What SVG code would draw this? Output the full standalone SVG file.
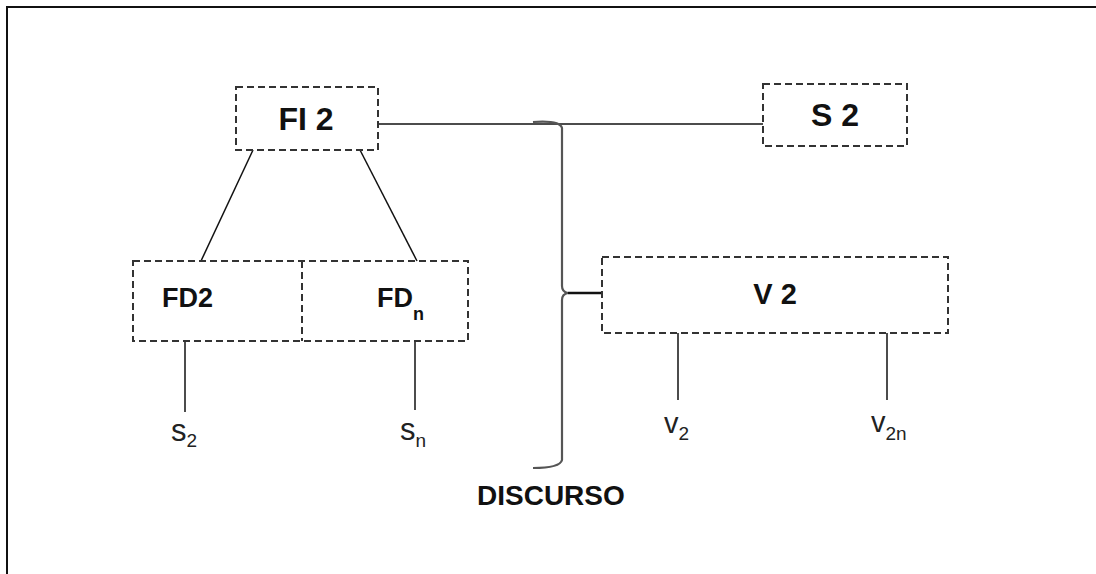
<svg xmlns="http://www.w3.org/2000/svg" width="1096" height="574" viewBox="0 0 1096 574">
<style>
.box{fill:none;stroke:#333;stroke-width:2;stroke-dasharray:7 4}
.ln{fill:none;stroke:#111;stroke-width:1.5}
.br{fill:none;stroke:#555;stroke-width:2.2}
.b{font-family:"Liberation Sans",Arial,sans-serif;font-weight:bold;fill:#111}
.r{font-family:"Liberation Sans",Arial,sans-serif;fill:#222}
</style>
<rect width="1096" height="574" fill="#fff"/>
<path d="M7,574 V7 H1096" fill="none" stroke="#111" stroke-width="2"/>
<g id="connectors">
<line class="ln" x1="378" y1="124" x2="763" y2="124"/>
<line class="ln" x1="253" y1="150" x2="201" y2="261"/>
<line class="ln" x1="360" y1="150" x2="417" y2="261"/>
<line class="ln" x1="185" y1="341" x2="185" y2="412"/>
<line class="ln" x1="415" y1="341" x2="415" y2="410"/>
<line class="ln" x1="678" y1="333" x2="678" y2="400"/>
<line class="ln" x1="887" y1="333" x2="887" y2="400"/>
<path class="br" d="M533,122 Q560,120 562,128 V286 Q562,292 568,293 Q562,294 562,300 V460 Q560,468 533,468"/>
<line x1="568" y1="293" x2="601" y2="293" stroke="#111" stroke-width="2.5"/>
</g>
<g id="FI2">
<rect class="box" x="236" y="87" width="142" height="63"/>
<text class="b" x="306" y="130" font-size="32" text-anchor="middle">FI 2</text>
</g>
<g id="S2">
<rect class="box" x="763" y="84" width="144" height="62"/>
<text class="b" x="835" y="126" font-size="32" text-anchor="middle">S 2</text>
</g>
<g id="FD">
<rect class="box" x="133" y="261" width="335" height="80"/>
<line class="box" x1="302" y1="261" x2="302" y2="341"/>
<text class="b" x="162" y="307" font-size="27">FD2</text>
<text class="b" x="377" y="307" font-size="27">FD<tspan font-size="18" dy="13">n</tspan></text>
</g>
<g id="V2">
<rect class="box" x="602" y="257" width="346" height="76"/>
<text class="b" x="775" y="304" font-size="29" text-anchor="middle">V 2</text>
</g>
<g id="labels">
<text class="r" x="171" y="441" font-size="31">s<tspan font-size="19" dy="6">2</tspan></text>
<text class="r" x="400" y="440" font-size="31">s<tspan font-size="19" dy="7">n</tspan></text>
<text class="r" x="664" y="433" font-size="29">v<tspan font-size="19" dy="7">2</tspan></text>
<text class="r" x="871" y="432" font-size="29">v<tspan font-size="19" dy="8">2n</tspan></text>
<text class="b" x="477" y="505" font-size="28">DISCURSO</text>
</g>
</svg>
